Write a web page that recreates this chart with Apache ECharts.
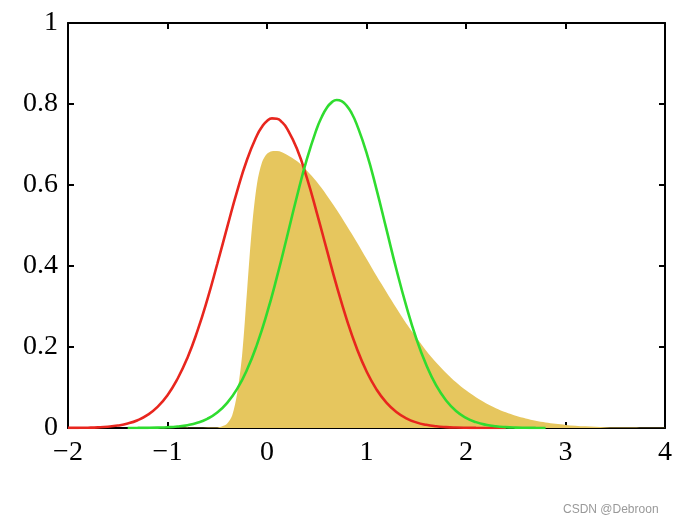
<!DOCTYPE html>
<html>
<head>
<meta charset="utf-8">
<script src="https://cdn.jsdelivr.net/npm/echarts@6/dist/echarts.min.js"></script>
<style>html,body{margin:0;padding:0;background:#fff;}#c{width:675px;height:526px;}</style>
</head>
<body>
<div id="c"></div>
<script>
// x-axis ticks and y-axis ticks
var xTicks = [-2, -1, 0, 1, 2, 3, 4];
var yTicks = [0, 0.2, 0.4, 0.6, 0.8, 1];

// Red curve (Laplace approximation)
var redX = [-2.0,-1.9,-1.8,-1.7,-1.6,-1.5,-1.4,-1.3,-1.2,-1.1,-1.0,-0.9,-0.8,-0.7,-0.6,-0.5,-0.4,-0.3,-0.2,-0.1,-0.05,0.0,0.05,0.1,0.15,0.2,0.3,0.4,0.5,0.6,0.7,0.8,0.9,1.0,1.1,1.2,1.3,1.4,1.5,1.6,1.7,1.8,1.9,2.0,2.1,2.2,2.3,2.4];
var redY = [0.0002,0.0004,0.0008,0.0016,0.0032,0.0061,0.011,0.0193,0.0324,0.0522,0.081,0.121,0.173,0.239,0.317,0.405,0.496,0.585,0.663,0.723,0.744,0.758,0.7644,0.7636,0.7554,0.740,0.690,0.618,0.532,0.441,0.351,0.269,0.198,0.140,0.0955,0.0626,0.0394,0.0239,0.0139,0.0078,0.0042,0.0022,0.0011,0.0005,0.0002,0.0001,0,0];

// Green curve (variational approximation)
var greenX = [-1.4,-1.3,-1.2,-1.1,-1.0,-0.9,-0.8,-0.7,-0.6,-0.5,-0.4,-0.3,-0.2,-0.1,0.0,0.1,0.2,0.3,0.4,0.5,0.55,0.6,0.65,0.7,0.75,0.8,0.85,0.9,1.0,1.1,1.2,1.3,1.4,1.5,1.6,1.7,1.8,1.9,2.0,2.1,2.2,2.3,2.4,2.5,2.6,2.7,2.8];
var greenY = [0.0001,0.0002,0.0004,0.0009,0.0018,0.0037,0.0070,0.0129,0.0227,0.0384,0.0622,0.0968,0.1444,0.2066,0.2834,0.373,0.471,0.571,0.663,0.739,0.768,0.790,0.804,0.810,0.807,0.796,0.7776,0.751,0.680,0.590,0.491,0.392,0.301,0.221,0.156,0.105,0.068,0.042,0.025,0.0145,0.008,0.0042,0.0021,0.001,0.0005,0.0002,0];

// Yellow filled distribution
var yellowX = [-2.0,-0.5,-0.45,-0.4,-0.35,-0.3,-0.25,-0.2,-0.15,-0.1,-0.05,0.0,0.05,0.1,0.2,0.3,0.4,0.5,0.6,0.7,0.8,0.9,1.0,1.1,1.2,1.3,1.4,1.5,1.6,1.7,1.8,1.9,2.0,2.1,2.2,2.3,2.4,2.5,2.6,2.7,2.8,2.9,3.0,3.2,3.4,3.6,4.0];
var yellowY = [0,0.0015,0.0042,0.0114,0.031,0.085,0.18,0.34,0.498,0.604,0.656,0.677,0.6835,0.684,0.675,0.659,0.636,0.608,0.575,0.539,0.500,0.460,0.418,0.376,0.336,0.296,0.258,0.224,0.191,0.162,0.136,0.113,0.093,0.0758,0.0613,0.049,0.0387,0.030,0.0234,0.018,0.0137,0.0103,0.0077,0.0041,0.0021,0.001,0.0002];

function pairs(xs, ys) { return xs.map(function (x, i) { return [x, ys[i]]; }); }

var serif = '"Liberation Serif", "DejaVu Serif", serif';
var axisLine = { show: true, onZero: false, lineStyle: { color: '#000', width: 2 } };
var tick = { show: true, inside: true, length: 6, lineStyle: { color: '#000', width: 2 } };

function xFmt(v) { return v < 0 ? '\u2212' + Math.abs(v) : String(v); }
function yFmt(v) { var r = Math.round(v * 10) / 10; return String(r); }

var chart = echarts.init(document.getElementById('c'));
chart.setOption({
  animation: false,
  backgroundColor: '#fff',
  grid: { left: 68, right: 8, top: 23, bottom: 98, containLabel: false },
  xAxis: [
    { type: 'value', min: xTicks[0], max: xTicks[xTicks.length - 1], interval: 1, position: 'bottom',
      axisLine: axisLine, axisTick: tick, splitLine: { show: false },
      axisLabel: { formatter: xFmt, fontFamily: serif, fontSize: 28, color: '#000', margin: 11 } },
    { type: 'value', min: xTicks[0], max: xTicks[xTicks.length - 1], interval: 1, position: 'top',
      axisLine: axisLine, axisTick: tick, splitLine: { show: false }, axisLabel: { show: false } }
  ],
  yAxis: [
    { type: 'value', min: yTicks[0], max: yTicks[yTicks.length - 1], interval: 0.2, position: 'left',
      axisLine: axisLine, axisTick: tick, splitLine: { show: false },
      axisLabel: { formatter: yFmt, fontFamily: serif, fontSize: 28, color: '#000', margin: 10, padding: [6, 0, 0, 0] } },
    { type: 'value', min: yTicks[0], max: yTicks[yTicks.length - 1], interval: 0.2, position: 'right',
      axisLine: axisLine, axisTick: tick, splitLine: { show: false }, axisLabel: { show: false } }
  ],
  series: [
    { type: 'line', data: pairs(yellowX, yellowY), showSymbol: false, smooth: 0.3,
      lineStyle: { width: 0, color: '#E6C65E' }, areaStyle: { color: '#E6C65E', opacity: 1 }, z: 1 },
    { type: 'line', data: pairs(redX, redY), showSymbol: false, smooth: 0.5,
      lineStyle: { color: '#E8261E', width: 2.6 }, z: 3 },
    { type: 'line', data: pairs(greenX, greenY), showSymbol: false, smooth: 0.5,
      lineStyle: { color: '#2FDC2F', width: 2.6 }, z: 3 }
  ],
  graphic: [
    { type: 'text', left: 563, top: 504,
      style: { text: 'CSDN @Debroon', fill: '#999', fontSize: 12, fontFamily: '"Liberation Sans", Arial, sans-serif' } }
  ]
});
</script>
</body>
</html>
